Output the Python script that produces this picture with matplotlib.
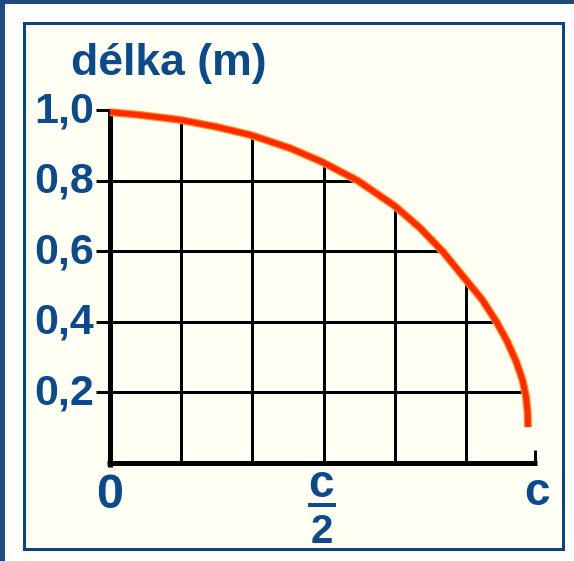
import matplotlib
matplotlib.use("Agg")
import matplotlib.pyplot as plt
from matplotlib.patches import Rectangle, Polygon

# ---- data ----
speed_frac = [0.0, 0.07, 0.164, 0.25, 0.33, 0.4215, 0.4965, 0.58, 0.667, 0.726, 0.78, 0.834,
              0.872, 0.905, 0.93, 0.952, 0.966, 0.974, 0.978, 0.979]
length_m = [0.994, 0.986, 0.972, 0.952, 0.929, 0.892, 0.853, 0.80, 0.728, 0.666, 0.598, 0.518,
            0.462, 0.400, 0.345, 0.285, 0.235, 0.190, 0.145, 0.102]
y_ticks = [0.2, 0.4, 0.6, 0.8, 1.0]
y_tick_labels = ["0,2", "0,4", "0,6", "0,8", "1,0"]
x_grid = [1/6, 2/6, 3/6, 4/6, 5/6]
title = "délka (m)"

W, H = 574, 561
BLUE = "#0b4a8c"
FONT = "Liberation Sans"
px = 0.72  # points per pixel at dpi 100

fig = plt.figure(figsize=(W/100, H/100), dpi=100)
fig.patch.set_facecolor("white")

# background axes in pixel coordinates
bg = fig.add_axes([0, 0, 1, 1], zorder=0)
bg.set_xlim(0, W)
bg.set_ylim(H, 0)
bg.axis("off")
bg.add_patch(Rectangle((0, 0), 5, H, facecolor="#1f4a80", edgecolor="none"))
bg.add_patch(Rectangle((0, 0), W, 3.5, facecolor="#1f4a80", edgecolor="none"))
bg.add_patch(Rectangle((23.5, 22.5), 562.5 - 23.5, 548.5 - 22.5,
                       facecolor="#fffff4", edgecolor="#0a4488", linewidth=3 * px))

# main data axes
x0, x1, yb, yt = 110, 537, 463, 110
ax = fig.add_axes([x0 / W, 1 - yb / H, (x1 - x0) / W, (yb - yt) / H], zorder=1)
ax.set_xlim(0, 1)
ax.set_ylim(0, 1)
ax.patch.set_alpha(0)
ax.axis("off")

clip = Polygon([(0, 0)] + list(zip(speed_frac, length_m)) + [(speed_frac[-1], 0)],
               closed=True, transform=ax.transData, facecolor="none", edgecolor="none")
ax.add_patch(clip)

for yv in y_ticks[:-1]:
    l, = ax.plot([0, 1], [yv, yv], color="black", lw=3 * px, solid_capstyle="butt")
    l.set_clip_path(clip)
for xv in x_grid:
    l, = ax.plot([xv, xv], [0, 1], color="black", lw=3 * px, solid_capstyle="butt")
    l.set_clip_path(clip)

# ticks
for yv in y_ticks:
    ax.plot([-0.033, 0], [yv, yv], color="black", lw=3 * px, clip_on=False, solid_capstyle="butt")
ax.plot([0.996, 0.996], [0, 0.037], color="black", lw=3 * px, clip_on=False, solid_capstyle="butt")

# axes lines
ax.plot([0, 0], [-0.012, 1.0], color="black", lw=5 * px, clip_on=False, solid_capstyle="butt")
ax.plot([-0.007, 1.0], [0, 0], color="black", lw=5 * px, clip_on=False, solid_capstyle="butt")

# curve
ax.plot(speed_frac, length_m, color="#ff8a1a", lw=8 * px, clip_on=False,
        solid_capstyle="butt", solid_joinstyle="round", zorder=4)
ax.plot(speed_frac, length_m, color="#ff2a00", lw=5.5 * px, clip_on=False,
        solid_capstyle="butt", solid_joinstyle="round", zorder=5)

# texts (pixel coords, drawn on top)
txt = fig.add_axes([0, 0, 1, 1], zorder=2)
txt.set_xlim(0, W)
txt.set_ylim(H, 0)
txt.axis("off")
txt.patch.set_alpha(0)

kw = dict(color=BLUE, fontfamily=FONT, fontweight="bold")
txt.text(71, 75, title, fontsize=32, ha="left", va="baseline", **kw)
for yv, lab in zip(y_ticks, y_tick_labels):
    ypx = yb - yv * (yb - yt)
    txt.text(94, ypx + 12, lab, fontsize=31, ha="right", va="baseline", **kw)
txt.text(109.5, 508, "0", fontsize=35, ha="center", va="baseline", **kw)
txt.text(320.5, 497, "c", fontsize=33, ha="center", va="baseline", **kw)
txt.plot([308, 336], [504.5, 504.5], color=BLUE, lw=4 * px, solid_capstyle="butt")
txt.text(321.5, 543, "2", fontsize=29, ha="center", va="baseline", **kw)
txt.text(537.5, 505, "c", fontsize=33, ha="center", va="baseline", **kw)

fig.savefig("out.png", dpi=100, facecolor="white")
